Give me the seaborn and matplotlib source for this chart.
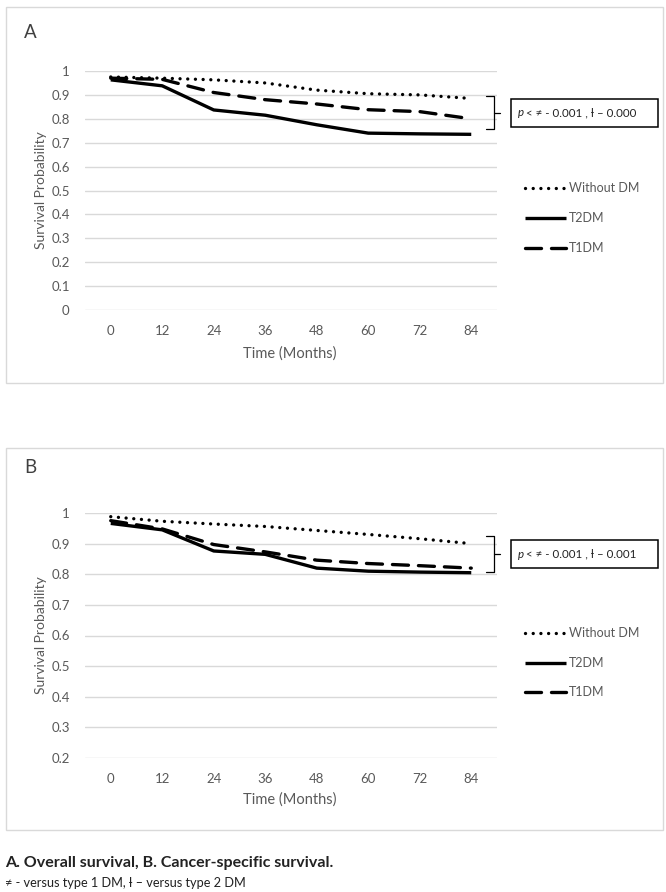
import pandas as pd
import matplotlib.pyplot as plt
import seaborn as sns
from matplotlib.lines import Line2D
from matplotlib.patches import Rectangle

months = [0, 12, 24, 36, 48, 60, 72, 84]
groups = ['Without DM', 'T2DM', 'T1DM']

# panel A - overall survival
without_dm_a = [0.975, 0.970, 0.963, 0.950, 0.920, 0.905, 0.900, 0.885]
t2dm_a = [0.963, 0.938, 0.837, 0.815, 0.775, 0.740, 0.737, 0.735]
t1dm_a = [0.970, 0.965, 0.910, 0.880, 0.862, 0.838, 0.830, 0.800]
pval_a = '< \u2260 - 0.001 , \u019a \u2013 0.000'

# panel B - cancer-specific survival
without_dm_b = [0.988, 0.973, 0.964, 0.956, 0.943, 0.930, 0.916, 0.900]
t2dm_b = [0.966, 0.945, 0.876, 0.865, 0.820, 0.810, 0.807, 0.805]
t1dm_b = [0.975, 0.948, 0.897, 0.873, 0.846, 0.835, 0.828, 0.820]
pval_b = '< \u2260 - 0.001 , \u019a \u2013 0.001'

caption1 = 'A. Overall survival, B. Cancer-specific survival.'
caption2 = '\u2260 - versus type 1 DM, \u019a \u2013 versus type 2 DM'

sns.set_style('white')
plt.rcParams['font.family'] = ['Lato', 'DejaVu Sans']

W, H = 666, 892
grey = '#595959'
gridc = '#d9d9d9'
dashes = {'Without DM': (0.01, 2.3), 'T2DM': '', 'T1DM': (4.8, 3.0)}
lw = 2.4


def fx(px):
    return px / W


def fy(py):
    return 1 - py / H


def long_df(wo, t2, t1):
    rows = []
    for g, vals in zip(groups, [wo, t2, t1]):
        for m, v in zip(months, vals):
            rows.append({'Months': m, 'Survival': v, 'Group': g})
    return pd.DataFrame(rows)


fig = plt.figure(figsize=(W / 100, H / 100), dpi=100)


def panel(top, bottom, ymin, letter, letter_y, data, pval, box, bracket, legend_y, ylab_y, xlab_y):
    ax = fig.add_axes([fx(85), fy(bottom), fx(497) - fx(85), fy(top) - fy(bottom)])
    df = long_df(*data)
    sns.lineplot(data=df, x='Months', y='Survival', hue='Group', style='Group',
                 palette=['black'] * 3, dashes=dashes, linewidth=lw, ax=ax,
                 legend=False)
    for ln in ax.get_lines():
        ln.set_dash_capstyle('round')
        ln.set_solid_capstyle('butt')
    ax.set_xlim(-6, 90)
    ax.set_ylim(ymin, 1.0)
    yt = [round(ymin + 0.1 * i, 1) for i in range(int(round((1 - ymin) * 10)) + 1)]
    ax.set_yticks(yt)
    ax.set_yticklabels(['{:g}'.format(v) for v in yt])
    ax.set_xticks(months)
    ax.set_xticklabels([str(m) for m in months])
    ax.tick_params(axis='both', length=0, labelsize=9.5, labelcolor=grey)
    ax.tick_params(axis='y', pad=11)
    ax.tick_params(axis='x', pad=11)
    ax.grid(axis='y', color=gridc, linewidth=1)
    ax.set_axisbelow(True)
    for s in ax.spines.values():
        s.set_visible(False)
    ax.set_xlabel('')
    ax.set_ylabel('')

    # panel frame and letter
    fig.add_artist(Rectangle((fx(6), fy(box[1])), fx(663) - fx(6), fy(box[0]) - fy(box[1]),
                             transform=fig.transFigure, fill=False, edgecolor=gridc, linewidth=1))
    fig.text(fx(30), fy(letter_y), letter, fontsize=13.5, color='#404040', ha='center', va='center')
    fig.text(fx(290), fy(xlab_y), 'Time (Months)', fontsize=10.5, color=grey, ha='center', va='center')
    fig.text(fx(41), fy(ylab_y), 'Survival Probability', fontsize=10, color=grey,
             ha='center', va='center', rotation=90)

    # legend drawn by hand to the right of the plot
    for g, yy in zip(groups, legend_y):
        ls = '-' if dashes[g] == '' else (0, dashes[g])
        fig.add_artist(Line2D([fx(525), fx(566)], [fy(yy), fy(yy)], transform=fig.transFigure,
                              color='black', linewidth=lw, linestyle=ls,
                              dash_capstyle='round', solid_capstyle='butt'))
        fig.text(fx(569), fy(yy), g, fontsize=9, color=grey, ha='left', va='center')

    # bracket and p-value box
    b0, b1 = bracket
    mid = (b0 + b1) / 2
    fig.add_artist(Line2D([fx(486), fx(494), fx(494), fx(486)], [fy(b0), fy(b0), fy(b1), fy(b1)],
                          transform=fig.transFigure, color='black', linewidth=0.9))
    fig.add_artist(Line2D([fx(494), fx(500)], [fy(mid), fy(mid)],
                          transform=fig.transFigure, color='black', linewidth=0.9))
    fig.add_artist(Rectangle((fx(511), fy(mid + 14)), fx(658) - fx(511), fy(mid - 14) - fy(mid + 14),
                             transform=fig.transFigure, fill=False, edgecolor='black', linewidth=1.1))
    fig.text(fx(518), fy(mid), 'p', fontsize=8.3, style='italic', color='#222222', ha='left', va='center')
    fig.text(fx(526), fy(mid), pval, fontsize=8.3, color='#222222', ha='left', va='center')
    return ax


panel(71, 310, 0.0, 'A', 32, (without_dm_a, t2dm_a, t1dm_a), pval_a, (7, 383),
      (96, 129), (188, 218, 248), 190, 354)
panel(513, 758, 0.2, 'B', 468, (without_dm_b, t2dm_b, t1dm_b), pval_b, (448, 830),
      (536, 572), (633, 663, 692), 635, 800)

fig.text(fx(5), fy(863), caption1, fontsize=11.5, fontweight='bold', color='#222222', ha='left', va='center')
fig.text(fx(5), fy(883), caption2, fontsize=9.2, color='#222222', ha='left', va='center')

fig.savefig('out.png', dpi=100, facecolor='white')
